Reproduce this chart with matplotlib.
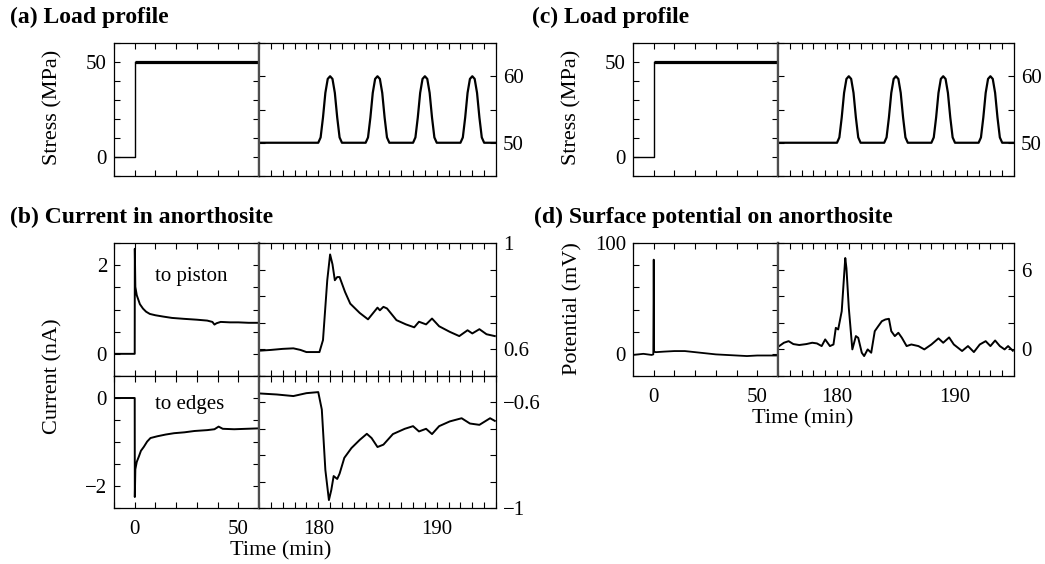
import numpy as np
import matplotlib
matplotlib.use("Agg")
import matplotlib.pyplot as plt

plt.rcParams['font.family'] = ['Liberation Serif', 'DejaVu Serif']
plt.rcParams['axes.unicode_minus'] = True

# ---- data ----
# load profile, first hour (min, MPa)
step_t = [-10, 0, 0]
step_s = [0, 0, 50]
hold_t = [0, 60]
hold_s = [50, 50]

# load profile, cyclic part (min, MPa)
pulse_t = [175, 180.0, 180.2, 180.4, 180.6, 180.8, 181.0, 181.2, 181.4, 181.6, 181.8, 182.0,
           184.0, 184.2, 184.4, 184.6, 184.8, 185.0, 185.2, 185.4, 185.6, 185.8, 186.0,
           188.0, 188.2, 188.4, 188.6, 188.8, 189.0, 189.2, 189.4, 189.6, 189.8, 190.0,
           192.0, 192.2, 192.4, 192.6, 192.8, 193.0, 193.2, 193.4, 193.6, 193.8, 194.0, 195]
pulse_s = [50, 50, 50.8, 53.8, 57.5, 59.6, 60, 59.6, 57.5, 53.8, 50.8, 50,
           50, 50.8, 53.8, 57.5, 59.6, 60, 59.6, 57.5, 53.8, 50.8, 50,
           50, 50.8, 53.8, 57.5, 59.6, 60, 59.6, 57.5, 53.8, 50.8, 50,
           50, 50.8, 53.8, 57.5, 59.6, 60, 59.6, 57.5, 53.8, 50.8, 50, 50]

# current to piston (nA)
pis_t1 = [-10, 0, 0.05, 0.3, 1.0, 1.6, 2.5, 4.0, 5.5, 7.3, 10, 13.8, 18, 23.6, 30, 35, 37.5, 38.5, 39.5, 41.5, 46, 50, 55, 60]
pis_i1 = [0, 0, 2.37, 1.51, 1.32, 1.24, 1.12, 1.02, 0.95, 0.9, 0.87, 0.84, 0.81, 0.79, 0.77, 0.75, 0.72, 0.66, 0.69, 0.72, 0.71, 0.71, 0.7, 0.7]
pis_t2 = [175, 176, 177, 177.9, 178.5, 179.0, 180.1, 180.4, 180.76, 181.0, 181.2, 181.4, 181.6, 181.8, 182.26, 182.7,
          183.5, 184.2, 184.6, 185.0, 185.2, 185.5, 185.8, 186.6, 187.4, 188.1, 188.5, 189.1, 189.6, 190.2, 191.1,
          191.9, 192.6, 193.0, 193.6, 194.2, 194.9]
pis_i2 = [0.595, 0.598, 0.602, 0.604, 0.598, 0.59, 0.59, 0.635, 0.86, 0.957, 0.92, 0.86, 0.872, 0.872, 0.816, 0.772,
          0.737, 0.713, 0.735, 0.757, 0.747, 0.76, 0.754, 0.71, 0.694, 0.683, 0.704, 0.694, 0.716, 0.687, 0.666,
          0.65, 0.672, 0.66, 0.676, 0.657, 0.65]

# current to edges (nA)
edg_t1 = [-10, 0, 0.05, 0.3, 1.0, 2.0, 3.0, 4.4, 6.0, 7.6, 10.9, 15, 19, 24, 28.8, 35, 38.5, 40.5, 42.5, 48, 54, 60]
edg_i1 = [0, 0, -2.25, -1.62, -1.45, -1.33, -1.2, -1.11, -0.99, -0.91, -0.87, -0.83, -0.8, -0.78, -0.75, -0.73, -0.71, -0.65, -0.7, -0.71, -0.7, -0.69]
edg_t2 = [175, 176.5, 177.9, 179.0, 180.0, 180.3, 180.6, 180.9, 181.1, 181.3, 181.6, 181.8, 182.2, 182.8, 183.5,
          184.1, 184.5, 185.0, 185.5, 186.3, 187.3, 188.0, 188.5, 189.1, 189.6, 190.2, 191.1, 192.1, 192.8, 193.6,
          194.5, 194.9]
edg_i2 = [-0.566, -0.57, -0.576, -0.565, -0.561, -0.627, -0.856, -0.97, -0.932, -0.879, -0.89, -0.87, -0.81, -0.773,
          -0.742, -0.719, -0.735, -0.769, -0.76, -0.72, -0.70, -0.69, -0.71, -0.70, -0.72, -0.69, -0.672, -0.66,
          -0.68, -0.685, -0.66, -0.67]

# surface potential (mV)
pot_t1 = [-10, -5, -1, -0.2, 0, 0.2, 1, 5, 10, 15, 20, 25, 30, 35, 40, 45, 50, 55, 60]
pot_v1 = [-1, 0, -1, -0.5, 85, 2, 1.5, 2, 2.5, 2.5, 1.5, 0.5, -0.5, -1, -1.5, -2, -1.5, -1.5, -1.5]
pot_t2 = [175.1, 175.5, 175.9, 176.3, 176.8, 177.4, 177.9, 178.3, 178.7, 179.0, 179.4, 179.7, 179.9, 180.1, 180.4,
          180.7, 180.8, 181.0, 181.3, 181.6, 181.8, 182.1, 182.3, 182.6, 182.9, 183.2, 183.5, 183.8, 184.1, 184.4,
          184.6, 184.9, 185.2, 185.5, 185.9, 186.3, 186.9, 187.4, 188.0, 188.6, 189.0, 189.5, 189.9, 190.6, 191.1,
          191.6, 192.1, 192.6, 193.0, 193.4, 193.8, 194.2, 194.5, 194.9]
pot_v2 = [0.25, 0.5, 0.62, 0.4, 0.33, 0.4, 0.5, 0.45, 0.25, 0.75, 0.25, 0.37, 1.62, 1.5, 2.87,
          6.87, 6.1, 3.12, 0.0, 1.0, 0.87, -0.25, -0.5, 0.0, -0.25, 1.37, 1.75, 2.12, 2.25, 2.3,
          1.37, 1.0, 1.25, 0.87, 0.25, 0.37, 0.25, 0.0, 0.37, 0.83, 0.5, 0.9, 0.37, -0.12, 0.25,
          -0.2, 0.37, 0.62, 0.25, 0.67, 0.25, 0.0, 0.25, -0.1]

W, H = 1045, 564
fig = plt.figure(figsize=(W / 100, H / 100), dpi=100)


def px_axes(x0, y0, x1, y1):
    return fig.add_axes([x0 / W, 1 - y1 / H, (x1 - x0) / W, (y1 - y0) / H])


def set_ticks(ax, which, pos, labels):
    texts = []
    for p in pos:
        txt = ''
        for v, s in labels.items():
            if np.isclose(p, v):
                txt = s
        texts.append(txt)
    if which == 'x':
        ax.set_xticks(pos)
        ax.set_xticklabels(texts)
    else:
        ax.set_yticks(pos)
        ax.set_yticklabels(texts)


def style(ax, side, xlabels):
    ax.tick_params(direction='in', length=4, width=0.8, top=True, bottom=True,
                   left=True, right=True, labelsize=15, colors='black')
    ax.tick_params(axis='y', pad=5, labelleft=(side == 'left'), labelright=(side == 'right'))
    ax.tick_params(axis='x', pad=9, labelbottom=xlabels)
    for sp in ax.spines.values():
        sp.set_linewidth(0.9)
    if side == 'left':
        ax.spines['right'].set_linewidth(1.6)
        ax.spines['right'].set_color('0.3')
    else:
        ax.spines['left'].set_linewidth(1.6)
        ax.spines['left'].set_color('0.3')


def pair(x0, x1, x2, y0, y1, xlabels):
    a1 = px_axes(x0, y0, x1, y1)
    a2 = px_axes(x1, y0, x2, y1)
    a1.set_xlim(-10, 60)
    a2.set_xlim(175, 195)
    set_ticks(a1, 'x', list(range(-10, 61, 10)), {0: '0', 50: '50'})
    set_ticks(a2, 'x', list(range(175, 196)), {180: '180', 190: '190'})
    style(a1, 'left', xlabels)
    style(a2, 'right', xlabels)
    return a1, a2


def load_panel(x0, x1, x2):
    a1, a2 = pair(x0, x1, x2, 43, 176, False)
    a1.plot(step_t, step_s, color='black', lw=1.0)
    a1.plot(hold_t, hold_s, color='black', lw=2.3, solid_capstyle='butt')
    a1.set_ylim(-10, 60)
    set_ticks(a1, 'y', list(range(-10, 61, 10)), {0: '0', 50: '50'})
    a2.plot(pulse_t, pulse_s, color='black', lw=1.6)
    a2.set_ylim(45, 65)
    set_ticks(a2, 'y', list(range(45, 66, 5)), {50: '50', 60: '60'})
    fig.text((x0 - 61) / W, 1 - 107 / H, 'Stress (MPa)', rotation=90,
             ha='center', va='center', fontsize=16)


# (a) and (c)
load_panel(114, 259, 496)
load_panel(633, 778, 1014)

# (b) current, upper: to piston
b1, b2 = pair(114, 259, 496, 243, 376, False)
b1.plot(pis_t1, pis_i1, color='black', lw=1.4)
b1.set_ylim(-0.5, 2.5)
set_ticks(b1, 'y', list(np.arange(-0.5, 2.51, 0.5)), {0: '0', 2: '2'})
b1.text(10, 1.64, 'to piston', fontsize=15, ha='left', va='baseline')
b2.plot(pis_t2, pis_i2, color='black', lw=1.4)
b2.set_ylim(0.5, 1.0)
set_ticks(b2, 'y', list(np.arange(0.5, 1.01, 0.1)), {0.6: '0.6', 1.0: '1'})

# (b) current, lower: to edges
c1, c2 = pair(114, 259, 496, 376, 508, True)
c1.plot(edg_t1, edg_i1, color='black', lw=1.4)
c1.set_ylim(-2.5, 0.5)
set_ticks(c1, 'y', list(np.arange(-2.5, 0.51, 0.5)), {-2: '\u22122', 0: '0'})
c1.text(10, -0.24, 'to edges', fontsize=15, ha='left', va='baseline')
c2.plot(edg_t2, edg_i2, color='black', lw=1.4)
c2.set_ylim(-1.0, -0.5)
set_ticks(c2, 'y', list(np.arange(-1.0, -0.49, 0.1)), {-0.6: '\u22120.6', -1.0: '\u22121'})
fig.text(53 / W, 1 - 376 / H, 'Current (nA)', rotation=90, ha='center', va='center', fontsize=16)
fig.text(281 / W, 1 - 555 / H, 'Time (min)', ha='center', va='baseline', fontsize=16)

# (d) surface potential
d1, d2 = pair(633, 778, 1014, 243, 376, True)
d1.plot(pot_t1, pot_v1, color='black', lw=1.3)
d1.set_ylim(-20, 100)
set_ticks(d1, 'y', list(range(-20, 101, 20)), {0: '0', 100: '100'})
d2.plot(pot_t2, pot_v2, color='black', lw=1.4)
d2.set_ylim(-2, 8)
set_ticks(d2, 'y', list(range(-2, 9, 2)), {0: '0', 6: '6'})
fig.text(573 / W, 1 - 309 / H, 'Potential (mV)', rotation=90, ha='center', va='center', fontsize=16)
fig.text(803 / W, 1 - 423 / H, 'Time (min)', ha='center', va='baseline', fontsize=16)

# panel titles
tkw = dict(fontsize=17, fontweight='bold', ha='left', va='baseline')
fig.text(10 / W, 1 - 23 / H, '(a) Load profile', **tkw)
fig.text(10 / W, 1 - 223 / H, '(b) Current in anorthosite', **tkw)
fig.text(532 / W, 1 - 23 / H, '(c) Load profile', **tkw)
fig.text(534 / W, 1 - 223 / H, '(d) Surface potential on anorthosite', **tkw)

fig.savefig('out.png', dpi=100)
